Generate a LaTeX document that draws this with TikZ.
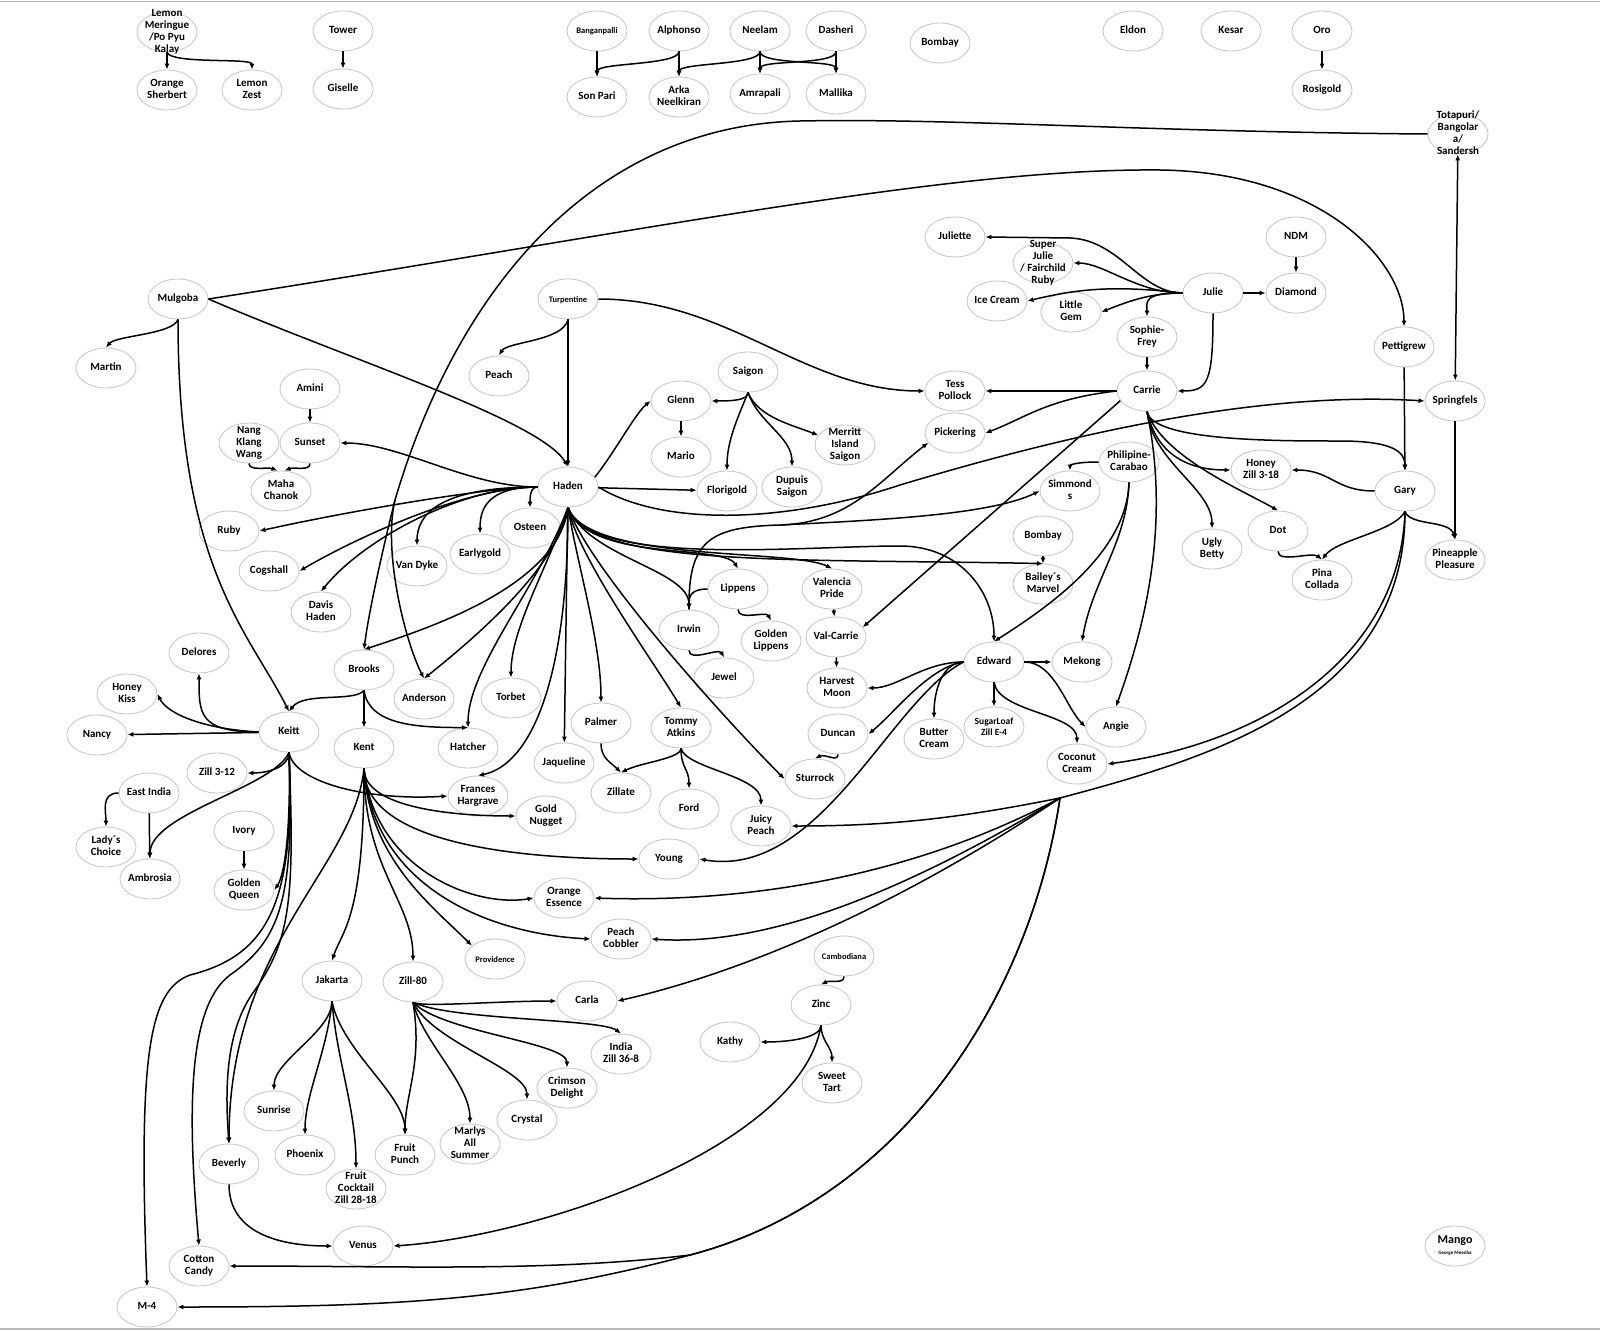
\documentclass[tikz,border=0pt]{standalone}
\usepackage{fontspec}
\setmainfont{Carlito}
\usetikzlibrary{arrows.meta,shapes.geometric}
\definecolor{ringgray}{RGB}{200,200,200}
\definecolor{framegray}{RGB}{185,185,185}
% label of fixed size, so every ellipse keeps the same size
\newcommand{\cvlabel}[1]{\makebox[0pt]{\smash{\raisebox{-3.2pt}{\begin{tabular}{@{}c@{}}#1\end{tabular}}}}}

\begin{document}
\begin{tikzpicture}[x=1pt,y=-1pt,
  cv/.style={ellipse,draw=ringgray,line width=0.9pt,minimum width=60pt,minimum height=40pt,
             inner sep=0pt,font=\fontsize{11}{12}\selectfont\bfseries},
  cvs/.style={cv,font=\fontsize{8.5}{9}\selectfont\bfseries},
  ar/.style={line width=1.5pt,-{Latex[length=6pt,width=5pt]}},
  arb/.style={line width=1.5pt,{Latex[length=6pt,width=5pt]}-{Latex[length=6pt,width=5pt]}},
  trunk/.style={line width=1.5pt}]
  \useasboundingbox (0,0) rectangle (1600,1332);
  \draw[framegray,line width=1.2pt] (0,1.5) -- (1600,1.5);
  \draw[framegray,line width=1.2pt] (0,1329) -- (1600,1329);

  % --- top row ---
  \node[cv] (lemon)   at (167,32)  {\cvlabel{Lemon\\Meringue\\/Po Pyu\\Kalay}};
  \node[cv] (orsh)    at (167,90)  {\cvlabel{Orange\\Sherbert}};
  \node[cv] (lzest)   at (252,90)  {\cvlabel{Lemon\\Zest}};
  \node[cv] (tower)   at (343,31)  {\cvlabel{Tower}};
  \node[cv] (giselle) at (343,89)  {\cvlabel{Giselle}};
  \node[cvs] (bangan) at (597,31)  {\cvlabel{Banganpalli}};
  \node[cv] (alph)    at (679,31)  {\cvlabel{Alphonso}};
  \node[cv] (neelam)  at (760,31)  {\cvlabel{Neelam}};
  \node[cv] (dash)    at (836,31)  {\cvlabel{Dasheri}};
  \node[cv] (bombaytop) at (940,43) {\cvlabel{Bombay}};
  \node[cv] (sonpari) at (597,97)  {\cvlabel{Son Pari}};
  \node[cv] (arka)    at (679,97)  {\cvlabel{Arka\\Neelkiran}};
  \node[cv] (amra)    at (760,94)  {\cvlabel{Amrapali}};
  \node[cv] (mallika) at (836,94)  {\cvlabel{Mallika}};
  \node[cv] (eldon)   at (1133,31) {\cvlabel{Eldon}};
  \node[cv] (kesar)   at (1231,31) {\cvlabel{Kesar}};
  \node[cv] (oro)     at (1322,31) {\cvlabel{Oro}};
  \node[cv] (rosi)    at (1322,90) {\cvlabel{Rosigold}};
  \node[cv] (tota)    at (1458,134) {\cvlabel{Totapuri/\\Bangolar\\a/\\Sandersh}};

  % --- Julie / Carrie corner ---
  \node[cv] (juliette)  at (955,237)  {\cvlabel{Juliette}};
  \node[cv] (superj)    at (1043,263) {\cvlabel{Super\\Julie\\/ Fairchild\\Ruby}};
  \node[cv] (icecream)  at (997,301)  {\cvlabel{Ice Cream}};
  \node[cv] (littlegem) at (1071,312) {\cvlabel{Little\\Gem}};
  \node[cv] (ndm)       at (1296,237) {\cvlabel{NDM}};
  \node[cv] (diamond)   at (1296,293) {\cvlabel{Diamond}};
  \node[cv] (julie)     at (1213,293) {\cvlabel{Julie}};
  \node[cv] (sophie)    at (1147,337) {\cvlabel{Sophie-\\Frey}};
  \node[cv] (carrie)    at (1147,391) {\cvlabel{Carrie}};
  \node[cv] (pettigrew) at (1404,347) {\cvlabel{Pettigrew}};
  \node[cv] (springfels) at (1455,401) {\cvlabel{Springfels}};

  % --- upper middle ---
  \node[cv] (mulgoba)   at (178,299) {\cvlabel{Mulgoba}};
  \node[cv] (martin)    at (106,368) {\cvlabel{Martin}};
  \node[cvs] (turp)     at (568,299) {\cvlabel{Turpentine}};
  \node[cv] (peach)     at (499,376) {\cvlabel{Peach}};
  \node[cv] (amini)     at (310,389) {\cvlabel{Amini}};
  \node[cv] (saigon)    at (748,372) {\cvlabel{Saigon}};
  \node[cv] (glenn)     at (681,401) {\cvlabel{Glenn}};
  \node[cv] (tess)      at (955,391) {\cvlabel{Tess\\Pollock}};
  \node[cv] (pickering) at (955,433) {\cvlabel{Pickering}};
  \node[cv] (merritt)   at (845,445) {\cvlabel{Merritt\\Island\\Saigon}};
  \node[cv] (nang)      at (249,443) {\cvlabel{Nang\\Klang\\Wang}};
  \node[cv] (sunset)    at (310,443) {\cvlabel{Sunset}};
  \node[cv] (mario)     at (681,457) {\cvlabel{Mario}};
  \node[cv] (maha)      at (281,491) {\cvlabel{Maha\\Chanok}};
  \node[cv] (haden)     at (568,487) {\cvlabel{Haden}};
  \node[cv] (florigold) at (727,491) {\cvlabel{Florigold}};
  \node[cv] (dupuis)    at (792,487) {\cvlabel{Dupuis\\Saigon}};
  \node[cv] (simmonds)  at (1070,491) {\cvlabel{Simmond\\s}};
  \node[cv] (phil)      at (1129,462) {\cvlabel{Philipine-\\Carabao}};
  \node[cv] (honeyz)    at (1261,470) {\cvlabel{Honey\\Zill 3-18}};
  \node[cv] (gary)      at (1405,491) {\cvlabel{Gary}};
  \node[cv] (ruby)      at (229,531) {\cvlabel{Ruby}};
  \node[cv] (osteen)    at (530,528) {\cvlabel{Osteen}};
  \node[cv] (earlygold) at (480,554) {\cvlabel{Earlygold}};
  \node[cv] (vandyke)   at (417,566) {\cvlabel{Van Dyke}};
  \node[cv] (cogshall)  at (269,571) {\cvlabel{Cogshall}};
  \node[cv] (davis)     at (321,612) {\cvlabel{Davis\\Haden}};
  \node[cv] (bombaymid) at (1043,536) {\cvlabel{Bombay}};
  \node[cv] (baileys)   at (1043,584) {\cvlabel{Bailey´s\\Marvel}};
  \node[cv] (ugly)      at (1212,549) {\cvlabel{Ugly\\Betty}};
  \node[cv] (dot)       at (1278,531) {\cvlabel{Dot}};
  \node[cv] (pina)      at (1322,580) {\cvlabel{Pina\\Collada}};
  \node[cv] (pineapple) at (1455,560) {\cvlabel{Pineapple\\Pleasure}};

  % --- centre ---
  \node[cv] (lippens)   at (738,589) {\cvlabel{Lippens}};
  \node[cv] (valencia)  at (832,589) {\cvlabel{Valencia\\Pride}};
  \node[cv] (irwin)     at (689,630) {\cvlabel{Irwin}};
  \node[cv] (goldenlip) at (771,641) {\cvlabel{Golden\\Lippens}};
  \node[cv] (valcarrie) at (836,637) {\cvlabel{Val-Carrie}};
  \node[cv] (jewel)     at (724,678) {\cvlabel{Jewel}};
  \node[cv] (harvest)   at (837,688) {\cvlabel{Harvest\\Moon}};
  \node[cv] (edward)    at (994,662) {\cvlabel{Edward}};
  \node[cv] (mekong)    at (1082,662) {\cvlabel{Mekong}};
  \node[cv] (delores)   at (199,653) {\cvlabel{Delores}};
  \node[cv] (honeykiss) at (127,694) {\cvlabel{Honey\\Kiss}};
  \node[cv] (nancy)     at (97,735)  {\cvlabel{Nancy}};
  \node[cv] (keitt)     at (289,732) {\cvlabel{Keitt}};
  \node[cv] (brooks)    at (364,670) {\cvlabel{Brooks}};
  \node[cv] (anderson)  at (424,699) {\cvlabel{Anderson}};
  \node[cv] (torbet)    at (511,698) {\cvlabel{Torbet}};
  \node[cv] (kent)      at (364,748) {\cvlabel{Kent}};
  \node[cv] (hatcher)   at (468,748) {\cvlabel{Hatcher}};
  \node[cv] (palmer)    at (601,723) {\cvlabel{Palmer}};
  \node[cv] (tommy)     at (681,728) {\cvlabel{Tommy\\Atkins}};
  \node[cv] (duncan)    at (838,734) {\cvlabel{Duncan}};
  \node[cv] (butter)    at (934,739) {\cvlabel{Butter\\Cream}};
  \node[cv,font=\fontsize{9.5}{11}\selectfont\bfseries] (sugarloaf) at (994,727) {\cvlabel{SugarLoaf\\Zill E-4}};
  \node[cv] (angie)     at (1116,727) {\cvlabel{Angie}};
  \node[cv] (jaqueline) at (564,763) {\cvlabel{Jaqueline}};
  \node[cv] (coconut)   at (1077,764) {\cvlabel{Coconut\\Cream}};
  \node[cv] (zill312)   at (217,773) {\cvlabel{Zill 3-12}};
  \node[cv] (sturrock)  at (815,779) {\cvlabel{Sturrock}};
  \node[cv] (eastindia) at (149,793) {\cvlabel{East India}};
  \node[cv] (frances)   at (478,796) {\cvlabel{Frances\\Hargrave}};
  \node[cv] (zillate)   at (621,793) {\cvlabel{Zillate}};
  \node[cv] (ford)      at (689,809) {\cvlabel{Ford}};
  \node[cv] (goldnugget) at (546,816) {\cvlabel{Gold\\Nugget}};
  \node[cv] (juicy)     at (761,826) {\cvlabel{Juicy\\Peach}};
  \node[cv] (ladys)     at (106,847) {\cvlabel{Lady´s\\Choice}};
  \node[cv] (ivory)     at (244,831) {\cvlabel{Ivory}};
  \node[cv] (young)     at (669,859) {\cvlabel{Young}};
  \node[cv] (ambrosia)  at (150,879) {\cvlabel{Ambrosia}};
  \node[cv] (goldenqueen) at (244,890) {\cvlabel{Golden\\Queen}};

  % --- lower part ---
  \node[cv] (orangeess) at (564,898) {\cvlabel{Orange\\Essence}};
  \node[cv] (cobbler)   at (621,939) {\cvlabel{Peach\\Cobbler}};
  \node[cvs] (cambod)   at (844,956) {\cvlabel{Cambodiana}};
  \node[cvs] (providence) at (495,959) {\cvlabel{Providence}};
  \node[cv] (jakarta)   at (332,981) {\cvlabel{Jakarta}};
  \node[cv] (zill80)    at (413,982) {\cvlabel{Zill-80}};
  \node[cv] (carla)     at (587,1001) {\cvlabel{Carla}};
  \node[cv] (zinc)      at (821,1005) {\cvlabel{Zinc}};
  \node[cv] (kathy)     at (730,1042) {\cvlabel{Kathy}};
  \node[cv] (indiazill) at (621,1054) {\cvlabel{India\\Zill 36-8}};
  \node[cv] (sweettart) at (832,1083) {\cvlabel{Sweet\\Tart}};
  \node[cv] (crimson)   at (567,1088) {\cvlabel{Crimson\\Delight}};
  \node[cv] (sunrise)   at (274,1111) {\cvlabel{Sunrise}};
  \node[cv] (crystal)   at (527,1120) {\cvlabel{Crystal}};
  \node[cv] (marlys)    at (470,1144) {\cvlabel{Marlys\\All\\Summer}};
  \node[cv] (phoenix)   at (305,1155) {\cvlabel{Phoenix}};
  \node[cv] (fruitpunch) at (405,1155) {\cvlabel{Fruit\\Punch}};
  \node[cv] (beverly)   at (229,1164) {\cvlabel{Beverly}};
  \node[cv] (fruitcocktail) at (356,1189) {\cvlabel{Fruit\\Cocktail\\Zill 28-18}};
  \node[cv] (venus)     at (363,1246) {\cvlabel{Venus}};
  \node[cv] (cotton)    at (199,1266) {\cvlabel{Cotton\\Candy}};
  \node[cv] (m4)        at (147,1307) {\cvlabel{M-4}};
  \node[cv] (mango)     at (1455,1246)
    {\cvlabel{{\fontsize{12}{13}\selectfont Mango}\\[-1pt]{\fontsize{5}{6}\selectfont George Messiha}}};

  % --- straight links ---
  \foreach \a/\b in {lemon/orsh,tower/giselle,bangan/sonpari,alph/arka,neelam/amra,dash/mallika,
                     oro/rosi,ndm/diamond,julie/diamond,sophie/carrie,amini/sunset,glenn/mario,
                     turp/haden,carrie/tess,pettigrew/gary,springfels/pineapple,valencia/valcarrie,
                     valcarrie/harvest,brooks/kent,bombaymid/baileys,edward/sugarloaf,edward/mekong,
                     eastindia/ambrosia,ivory/goldenqueen,keitt/nancy,haden/florigold,haden/jaqueline}
    \draw[ar] (\a) -- (\b);
  \draw[arb] (tota) -- (springfels);
  \draw[ar] (carrie.200) -- (valcarrie.20);

  % --- top clusters ---
  \draw[ar] (lemon.south) .. controls +(5,12) and +(0,-12) .. (lzest.north);
  \draw[ar] (alph.south) .. controls +(0,14) and +(0,-14) .. (sonpari.north);
  \draw[ar] (neelam.south) .. controls +(0,14) and +(0,-14) .. (arka.north);
  \draw[ar] (neelam.south) .. controls +(0,14) and +(0,-14) .. (mallika.north);
  \draw[ar] (dash.south) .. controls +(0,14) and +(0,-14) .. (amra.north);

  % --- Julie ---
  \draw[ar] (julie.west) .. controls (1140,293) and (1120,240) .. (1070,238) -- (juliette.east);
  \draw[ar] (julie.west) .. controls +(-45,0) and +(30,0) .. (superj.east);
  \draw[ar] (julie.west) .. controls +(-70,-8) and +(50,-12) .. (icecream.east);
  \draw[ar] (julie.west) .. controls +(-30,0) and +(30,-12) .. (littlegem.east);
  \draw[ar] (julie.west) .. controls +(-40,0) and +(0,-15) .. (sophie.north);
  \draw[ar] (julie.south) .. controls +(0,70) and +(30,0) .. (carrie.east);

  % --- Turpentine ---
  \draw[ar] (turp.south) .. controls +(-5,22) and +(8,-14) .. (peach.north);
  \draw[ar] (turp.east) .. controls +(130,0) and +(-120,0) .. (tess.west);

  % --- Carrie fan ---
  \draw[ar] (carrie.west) .. controls +(-70,8) and +(40,-15) .. (pickering.east);
  \draw[ar] (carrie.south) .. controls +(10,45) and +(-40,0) .. (honeyz.west);
  \draw[ar] (carrie.south) .. controls +(5,50) and +(0,-40) .. (ugly.north);
  \draw[ar] (carrie.south) .. controls +(15,45) and +(-35,-20) .. (dot.north);
  \draw[ar] (carrie.south) .. controls +(5,30) and +(-60,0) .. (1340,441)
                           .. controls +(50,0) and +(0,-20) .. (gary.north);
  \draw[ar] (carrie.south) .. controls +(25,120) and +(25,-70) .. (angie.north);

  % --- Mulgoba ---
  \draw[ar] (mulgoba.south) .. controls +(-5,15) and +(10,-12) .. (martin.north);
  \draw[ar] (mulgoba.east) .. controls (350,360) and (540,420) .. (haden.north);
  \draw[ar] (mulgoba.south) .. controls +(0,250) and +(-40,-80) .. (keitt.north);
  \draw[ar] (mulgoba.east) .. controls (650,230) and (950,168) .. (1160,170)
                           .. controls (1320,172) and (1404,260) .. (pettigrew.north);

  % --- Totapuri long arc ---
  \coordinate (arcsplit) at (395,500);
  \draw[trunk] (tota.west) .. controls (1150,132) and (950,118) .. (800,121)
               .. controls (600,125) and (460,280) .. (arcsplit);
  \draw[ar] (arcsplit) .. controls +(-10,40) and +(5,-40) .. (brooks.north);
  \draw[ar] (arcsplit) .. controls +(-12,50) and +(-20,-40) .. (anderson.north);

  % --- Gary ---
  \draw[ar] (gary.west) .. controls +(-40,0) and +(40,0) .. (honeyz.east);
  \draw[ar] (gary.south) .. controls +(-10,20) and +(15,-20) .. (pina.north);
  \draw[ar] (gary.south) .. controls +(5,15) and +(-5,-20) .. (pineapple.north);
  \draw[ar] (dot.south) .. controls +(0,12) and +(-10,-8) .. (pina.north);
  \draw[ar] (gary.south) .. controls +(-5,150) and +(150,-20) .. (coconut.east);
  \coordinate (garyfan) at (1060,798);
  \draw[trunk] (gary.south) .. controls +(0,190) and +(150,-40) .. (garyfan);
  \draw[ar] (garyfan) .. controls +(-100,20) and +(100,0) .. (juicy.east);
  \draw[ar] (garyfan) .. controls +(-150,80) and +(150,5) .. (orangeess.east);
  \draw[ar] (garyfan) .. controls +(-150,90) and +(120,8) .. (cobbler.east);
  \draw[ar] (garyfan) .. controls +(-180,120) and +(110,-25) .. (carla.east);
  \draw[ar] (garyfan) .. controls (1030,1000) and (900,1200) .. (690,1255)
                      .. controls (550,1272) and (400,1266) .. (cotton.east);
  \draw[ar] (garyfan) .. controls (1030,1000) and (900,1200) .. (690,1255)
                      .. controls (520,1300) and (400,1307) .. (m4.east);

  % --- Philipine / Edward ---
  \draw[ar] (phil.south) .. controls +(-2,70) and +(55,-35) .. (edward.north);
  \draw[ar] (phil.south) .. controls +(-2,60) and +(10,-60) .. (mekong.north);
  \draw[ar] (phil.west) .. controls +(-25,0) and +(0,-5) .. (simmonds.north);
  \draw[ar] (edward.west) .. controls +(-40,0) and +(30,0) .. (harvest.east);
  \draw[ar] (edward.west) .. controls +(-35,5) and +(25,-20) .. (duncan.east);
  \draw[ar] (edward.west) .. controls +(-20,0) and +(0,-30) .. (butter.north);
  \draw[ar] (edward.south) .. controls +(5,30) and +(0,-30) .. (coconut.north);
  \draw[ar] (edward.east) .. controls +(30,0) and +(-20,-20) .. (angie.west);
  \draw[ar] (edward.west) .. controls (890,700) and (820,880) .. (young.east);

  % --- Haden, right side ---
  \draw[ar] (haden.south) .. controls +(20,60) and +(-100,0) .. (900,546)
                          .. controls +(60,0) and +(0,-50) .. (edward.north);
  \draw[ar] (haden.south) .. controls +(20,60) and +(-250,-5) .. (baileys.north);
  \draw[ar] (haden.south) .. controls +(20,55) and +(-40,-20) .. (valencia.north);
  \draw[ar] (haden.south) .. controls +(20,55) and +(-15,-25) .. (lippens.north);
  \draw[ar] (haden.south) .. controls +(20,50) and +(0,-40) .. (irwin.north);
  \draw[ar] (haden.east) .. controls (660,525) and (780,525) .. (900,485)
                         .. controls (1050,440) and (1250,390) .. (springfels.west);
  \draw[ar] (haden.20) .. controls +(20,-25) and +(-15,12) .. (glenn.west);
  \draw[ar] (lippens.west) .. controls +(-18,0) and +(0,-12) .. (irwin.north);
  \draw[ar] (lippens.south) .. controls +(0,12) and +(-5,-10) .. (goldenlip.north);
  \draw[ar] (irwin.south) .. controls +(0,12) and +(-5,-10) .. (jewel.north);
  \coordinate (irwinup) at (780,525);
  \draw[trunk] (irwin.north) .. controls (688,540) and (710,527) .. (irwinup);
  \draw[ar] (irwinup) .. controls (850,523) and (880,480) .. (pickering.200);
  \draw[ar] (irwinup) .. controls (880,520) and (990,515) .. (simmonds.west);

  % --- Haden, left side ---
  \draw[ar] (haden.west) .. controls +(-70,0) and +(60,0) .. (sunset.east);
  \draw[ar] (haden.west) .. controls +(-50,0) and +(80,-18) .. (ruby.east);
  \draw[ar] (haden.west) .. controls +(-70,0) and +(60,-35) .. (cogshall.east);
  \draw[ar] (haden.west) .. controls +(-80,0) and +(40,-50) .. (davis.north);
  \draw[ar] (haden.west) .. controls +(-100,0) and +(0,-30) .. (vandyke.north);
  \draw[ar] (haden.west) .. controls +(-50,0) and +(0,-25) .. (earlygold.north);
  \draw[ar] (haden.west) .. controls +(-8,0) and +(0,-8) .. (osteen.north);

  % --- Haden, down ---
  \draw[ar] (haden.south) .. controls +(-10,80) and +(60,-20) .. (brooks.north);
  \draw[ar] (haden.south) .. controls +(-10,60) and +(50,-40) .. (anderson.north);
  \draw[ar] (haden.south) .. controls +(-20,60) and +(0,-50) .. (torbet.north);
  \draw[ar] (haden.south) .. controls +(-30,80) and +(0,-60) .. (hatcher.north);
  \draw[ar] (haden.south) .. controls +(0,180) and +(50,-10) .. (frances.north);
  \draw[ar] (haden.south) .. controls +(10,60) and +(0,-60) .. (palmer.north);
  \draw[ar] (haden.south) .. controls +(10,50) and +(-30,-50) .. (tommy.north);
  \draw[ar] (haden.south) .. controls +(20,60) and +(-60,-60) .. (sturrock.west);

  % --- Saigon, Sunset ---
  \draw[ar] (saigon.south) .. controls +(0,8) and +(20,0) .. (glenn.east);
  \draw[ar] (saigon.south) .. controls +(-10,25) and +(0,-30) .. (florigold.north);
  \draw[ar] (saigon.south) .. controls +(10,30) and +(0,-30) .. (dupuis.north);
  \draw[ar] (saigon.south) .. controls +(10,25) and +(-25,-10) .. (merritt.160);
  \draw[ar] (nang.south) .. controls +(0,8) and +(-10,-4) .. (maha.100);
  \draw[ar] (sunset.south) .. controls +(0,8) and +(10,-4) .. (maha.80);

  % --- Brooks, Keitt ---
  \draw[ar] (brooks.south) .. controls +(-10,12) and +(15,-20) .. (keitt.north);
  \draw[ar] (brooks.south) .. controls +(5,35) and +(-50,0) .. (hatcher.north);
  \draw[ar] (keitt.west) .. controls +(-55,-3) and +(10,20) .. (honeykiss.east);
  \draw[ar] (keitt.west) .. controls +(-60,0) and +(0,40) .. (delores.south);
  \draw[ar] (keitt.south) .. controls +(0,15) and +(20,0) .. (zill312.east);
  \draw[ar] (keitt.south) .. controls +(-15,35) and +(0,-45) .. (ambrosia.north);
  \draw[ar] (keitt.south) .. controls +(2,80) and +(10,-15) .. (goldenqueen.east);
  \draw[ar] (keitt.south) .. controls (295,900) and (290,940) .. (255,990)
                          .. controls (225,1030) and (225,1090) .. (beverly.north);
  \draw[ar] (keitt.south) .. controls (295,900) and (280,940) .. (230,975)
                          .. controls (190,1005) and (186,1100) .. (cotton.north);
  \draw[ar] (keitt.south) .. controls (295,900) and (270,955) .. (190,975)
                          .. controls (150,990) and (138,1050) .. (m4.north);
  \draw[ar] (keitt.south) .. controls +(5,30) and +(-80,5) .. (frances.west);
  \draw[ar] (eastindia.west) .. controls +(-18,0) and +(0,-15) .. (ladys.north);

  % --- Kent fan ---
  \draw[ar] (kent.south) .. controls +(0,40) and +(-60,0) .. (goldnugget.west);
  \draw[ar] (kent.south) .. controls +(0,80) and +(-100,0) .. (young.west);
  \draw[ar] (kent.south) .. controls +(10,100) and +(-60,10) .. (orangeess.west);
  \draw[ar] (kent.south) .. controls +(10,120) and +(-100,-5) .. (cobbler.west);
  \draw[ar] (kent.south) .. controls +(5,90) and +(-40,-40) .. (providence.150);
  \draw[ar] (kent.south) .. controls +(0,100) and +(0,-60) .. (zill80.north);
  \draw[ar] (kent.south) .. controls +(0,150) and +(10,-30) .. (jakarta.north);
  \draw[ar] (kent.south) .. controls +(-10,100) and +(0,-200) .. (beverly.north);

  % --- Zill-80, Jakarta ---
  \draw[ar] (zill80.south) .. controls +(10,5) and +(-60,0) .. (carla.west);
  \draw[ar] (zill80.south) .. controls +(40,18) and +(-20,-15) .. (indiazill.north);
  \draw[ar] (zill80.south) .. controls +(30,30) and +(0,-25) .. (crimson.north);
  \draw[ar] (zill80.south) .. controls +(20,40) and +(0,-30) .. (crystal.north);
  \draw[ar] (zill80.south) .. controls +(10,40) and +(0,-40) .. (marlys.north);
  \draw[ar] (zill80.south) .. controls +(10,60) and +(0,-40) .. (fruitpunch.north);
  \draw[ar] (jakarta.south) .. controls +(0,30) and +(0,-30) .. (sunrise.north);
  \draw[ar] (jakarta.south) .. controls +(-5,50) and +(0,-40) .. (phoenix.north);
  \draw[ar] (jakarta.south) .. controls +(5,60) and +(0,-60) .. (fruitcocktail.north);
  \draw[ar] (jakarta.south) .. controls +(10,50) and +(0,-40) .. (fruitpunch.north);

  % --- Beverly, Zinc ---
  \draw[ar] (beverly.south) .. controls +(0,50) and +(-50,0) .. (venus.west);
  \draw[ar] (cambod.south) .. controls +(0,8) and +(10,-5) .. (zinc.north);
  \draw[ar] (zinc.south) .. controls +(0,12) and +(30,0) .. (kathy.east);
  \draw[ar] (zinc.south) .. controls +(0,15) and +(0,-15) .. (sweettart.north);
  \draw[ar] (zinc.south) .. controls +(-20,120) and +(150,-10) .. (venus.east);

  % --- Palmer, Tommy Atkins, Duncan ---
  \draw[ar] (palmer.south) .. controls +(0,15) and +(-10,-10) .. (zillate.north);
  \draw[ar] (tommy.south) .. controls +(0,10) and +(20,-10) .. (zillate.north);
  \draw[ar] (tommy.south) .. controls +(0,20) and +(0,-20) .. (ford.north);
  \draw[ar] (tommy.south) .. controls +(5,20) and +(0,-30) .. (juicy.north);
  \draw[ar] (duncan.south) .. controls +(0,8) and +(10,-5) .. (sturrock.north);
\end{tikzpicture}
\end{document}
